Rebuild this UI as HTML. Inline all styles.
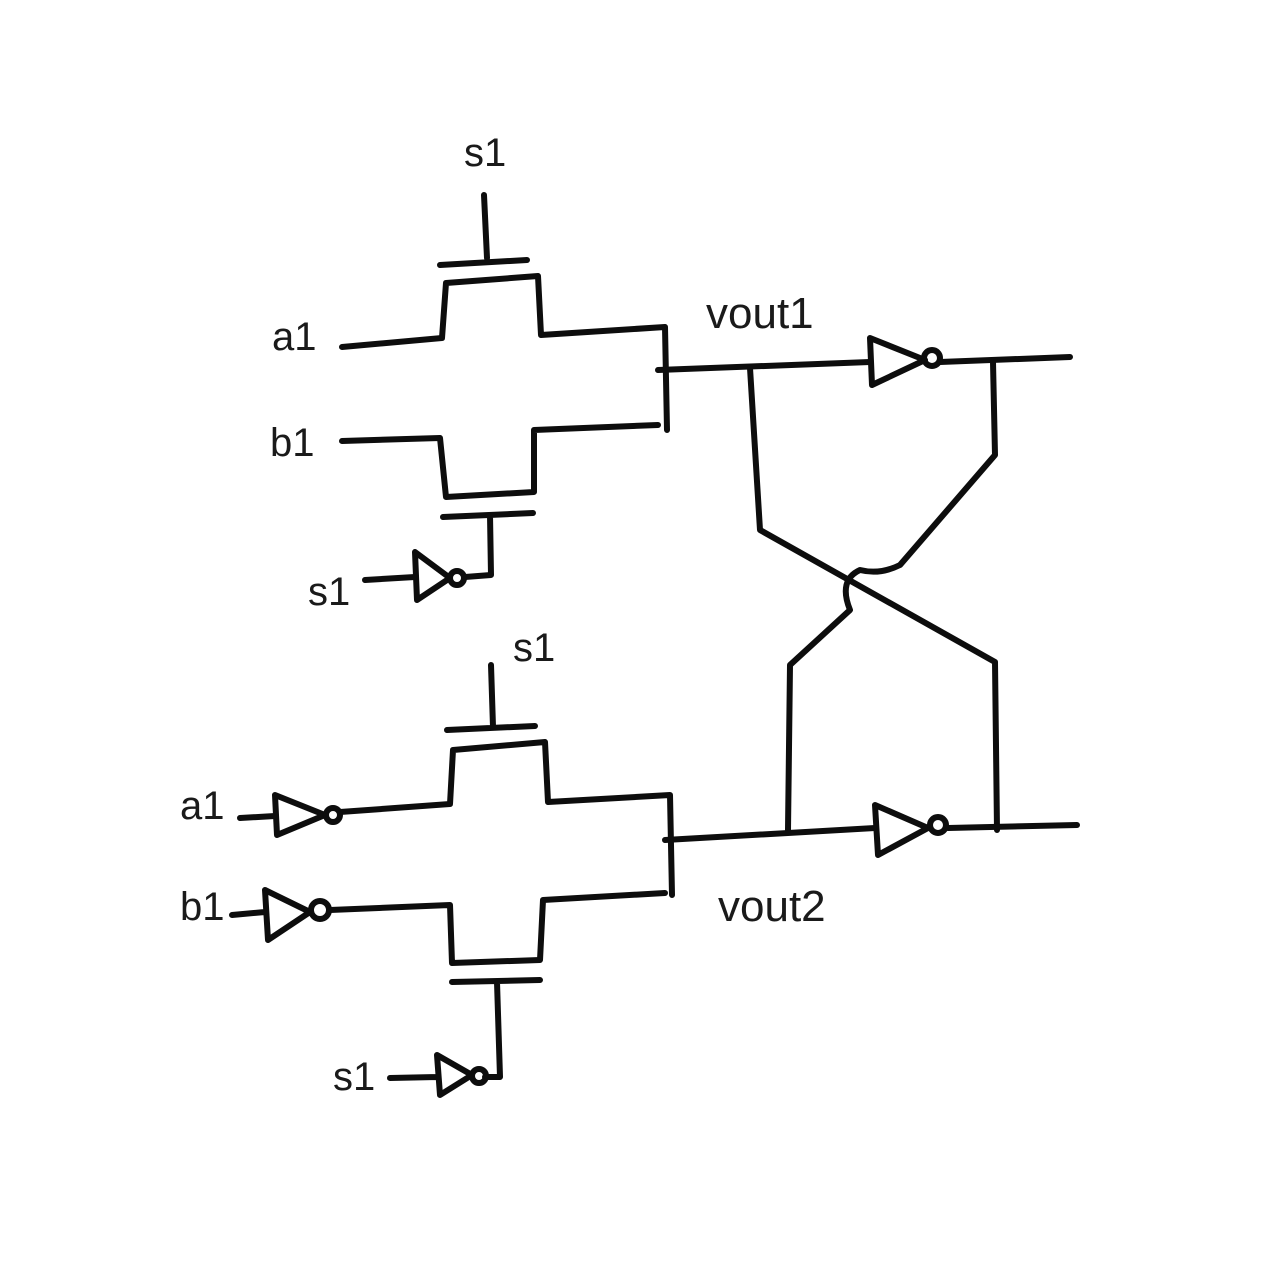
<!DOCTYPE html>
<html><head><meta charset="utf-8"><style>
html,body{margin:0;padding:0;background:#fff;width:1280px;height:1280px;overflow:hidden}
svg{display:block}
text{font-family:"Liberation Sans",sans-serif;font-size:40px;fill:#1a1a1a}
.w{fill:none;stroke:#0d0d0d;stroke-width:6;stroke-linecap:round;stroke-linejoin:round}
</style></head><body>
<svg width="1280" height="1280" viewBox="0 0 1280 1280">
<rect width="1280" height="1280" fill="#fff"/>
<g>
<text x="464" y="166">s1</text>
<path class="w" d="M484 195 L487 258 M440 265 L527 260"/>
<path class="w" d="M342 347 L442 338 L446 283 L538 276 L541 335 L665 327 L667 430"/>
<text x="272" y="350">a1</text>
<text x="270" y="456">b1</text>
<path class="w" d="M342 441 L440 438 L446 497 L534 492 L534 430 L658 425"/>
<path class="w" d="M443 517 L533 513 M490 515 L491 575 L465 577"/>
<text x="308" y="605">s1</text>
<path class="w" d="M365 580 L415 577 M415 552 L417 600 L450 578 Z"/>
<circle class="w" cx="457" cy="578" r="7"/>
</g>
<g>
<path class="w" d="M658 370 L870 362"/>
<text x="706" y="328" style="font-size:44px">vout1</text>
<path class="w" d="M870 338 L872 385 L925 360 Z M940 362 L1070 357"/>
<circle class="w" cx="932" cy="358" r="8"/>
<path class="w" d="M993 362 L995 455 L900 565 Q880 575 860 570 Q838 580 850 610 L790 665 L788 830"/>
<path class="w" d="M750 368 L760 530 L995 662 L997 830"/>
<path class="w" d="M665 840 L875 828"/>
<text x="718" y="921" style="font-size:44px">vout2</text>
<path class="w" d="M875 805 L878 855 L928 828 Z M948 828 L1077 825"/>
<circle class="w" cx="938" cy="825" r="8"/>
</g>
<g>
<text x="513" y="661">s1</text>
<path class="w" d="M491 665 L493 727 M447 730 L535 726"/>
<path class="w" d="M340 812 L450 804 L453 750 L545 742 L548 802 L670 795 L672 895"/>
<text x="180" y="819">a1</text>
<path class="w" d="M240 818 L275 816 M275 795 L277 835 L325 815 Z"/>
<circle class="w" cx="333" cy="815" r="7"/>
<text x="180" y="920">b1</text>
<path class="w" d="M232 915 L265 912 M265 890 L268 940 L310 912 Z"/>
<circle class="w" cx="320" cy="910" r="9"/>
<path class="w" d="M330 910 L450 905 L452 963 L540 960 L543 900 L665 893"/>
<path class="w" d="M452 982 L540 980 M497 982 L500 1077 L485 1077"/>
<text x="333" y="1090">s1</text>
<path class="w" d="M390 1078 L437 1077 M437 1055 L440 1095 L472 1075 Z"/>
<circle class="w" cx="479" cy="1076" r="7"/>
</g>
</svg>
</body></html>
